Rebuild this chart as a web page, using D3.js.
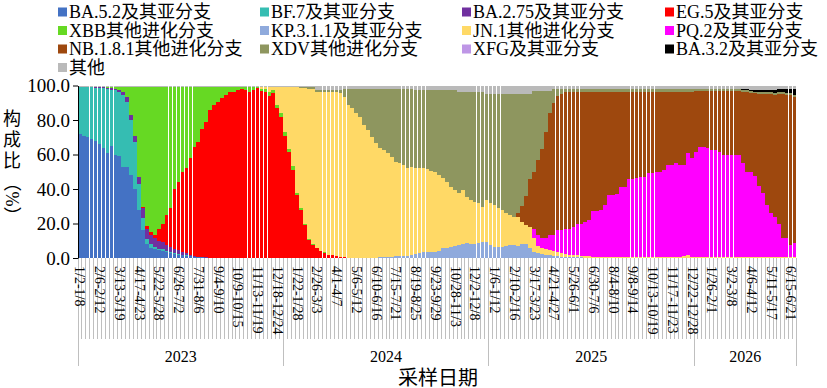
<!DOCTYPE html>
<html><head><meta charset="utf-8">
<script src="https://cdn.jsdelivr.net/npm/d3@7"></script>
<style>
body{margin:0;background:#fff;}
text{font-family:"Liberation Serif","Times New Roman","Noto Sans CJK SC",serif;fill:#000;}
</style>
</head><body>
<svg id="chart" width="827" height="388"></svg>
<script>
// ---------- DATA ----------
const weeks = [
"1/2-1/8","1/9-1/15","1/16-1/22","1/23-1/29","1/30-2/5","2/6-2/12","2/13-2/19","2/20-2/26","2/27-3/5","3/6-3/12",
"3/13-3/19","3/20-3/26","3/27-4/2","4/3-4/9","4/10-4/16","4/17-4/23","4/24-4/30","5/1-5/7","5/8-5/14","5/15-5/21",
"5/22-5/28","5/29-6/4","6/5-6/11","6/12-6/18","6/19-6/25","6/26-7/2","7/3-7/9","7/10-7/16","7/17-7/23","7/24-7/30",
"7/31-8/6","8/7-8/13","8/14-8/20","8/21-8/27","8/28-9/3","9/4-9/10","9/11-9/17","9/18-9/24","9/25-10/1","10/2-10/8",
"10/9-10/15","10/16-10/22","10/23-10/29","10/30-11/5","11/6-11/12","11/13-11/19","11/20-11/26","11/27-12/3","12/4-12/10","12/11-12/17",
"12/18-12/24","12/25-12/31",
"1/1-1/7","1/8-1/14","1/15-1/21","1/22-1/28","1/29-2/4","2/5-2/11","2/12-2/18","2/19-2/25","2/26-3/3","3/4-3/10",
"3/11-3/17","3/18-3/24","3/25-3/31","4/1-4/7","4/8-4/14","4/15-4/21","4/22-4/28","4/29-5/5","5/6-5/12","5/13-5/19",
"5/20-5/26","5/27-6/2","6/3-6/9","6/10-6/16","6/17-6/23","6/24-6/30","7/1-7/7","7/8-7/14","7/15-7/21","7/22-7/28",
"7/29-8/4","8/5-8/11","8/12-8/18","8/19-8/25","8/26-9/1","9/2-9/8","9/9-9/15","9/16-9/22","9/23-9/29","9/30-10/6",
"10/7-10/13","10/14-10/20","10/21-10/27","10/28-11/3","11/4-11/10","11/11-11/17","11/18-11/24","11/25-12/1","12/2-12/8","12/9-12/15",
"12/16-12/22","12/23-12/29",
"12/30-1/5","1/6-1/12","1/13-1/19","1/20-1/26","1/27-2/2","2/3-2/9","2/10-2/16","2/17-2/23","2/24-3/2","3/3-3/9",
"3/10-3/16","3/17-3/23","3/24-3/30","3/31-4/6","4/7-4/13","4/14-4/20","4/21-4/27","4/28-5/4","5/5-5/11","5/12-5/18",
"5/19-5/25","5/26-6/1","6/2-6/8","6/9-6/15","6/16-6/22","6/23-6/29","6/30-7/6","7/7-7/13","7/14-7/20","7/21-7/27",
"7/28-8/3","8/4-8/10","8/11-8/17","8/18-8/24","8/25-8/31","9/1-9/7","9/8-9/14","9/15-9/21","9/22-9/28","9/29-10/5",
"10/6-10/12","10/13-10/19","10/20-10/26","10/27-11/2","11/3-11/9","11/10-11/16","11/17-11/23","11/24-11/30","12/1-12/7","12/8-12/14",
"12/15-12/21","12/22-12/28",
"12/29-1/4","1/5-1/11","1/12-1/18","1/19-1/25","1/26-2/1","2/2-2/8","2/9-2/15","2/16-2/22","2/23-3/1","3/2-3/8",
"3/9-3/15","3/16-3/22","3/23-3/29","3/30-4/5","4/6-4/12","4/13-4/19","4/20-4/26","4/27-5/3","5/4-5/10","5/11-5/17",
"5/18-5/24","5/25-5/31","6/1-6/7","6/8-6/14","6/15-6/21","6/22-6/28"
];
const years = ["2023","2024","2025","2026"];
const weeksPerYear = [52,52,52,26];
const yTickLabels = ["0.0","20.0","40.0","60.0","80.0","100.0"];

const seriesNames = ["BA.5.2及其亚分支","BF.7及其亚分支","BA.2.75及其亚分支","EG.5及其亚分支",
  "XBB其他进化分支","KP.3.1.1及其亚分支","JN.1其他进化分支","PQ.2及其亚分支",
  "NB.1.8.1其他进化分支","XDV其他进化分支","XFG及其亚分支","BA.3.2及其亚分支","其他"];
const seriesColors = ["#4472C4","#35BDB2","#7030A0","#FF0000","#66D923","#8FAADC","#FFD966","#FF00FF",
  "#9E480E","#8E965F","#BE96E6","#000000","#BABABA"];

const BA52 = [
72,71,70,69,68,66,64,61,65,60, 59,53,53,48,40,28,16,8,6,5, 4.5,4,3.2,2.8,2.4,2,1.6,1.2,0.9,0.6, 0.4,0.3,0.2,0.1,0,0,0,0,0,0, 0,0,0,0,0,0,0,0,0,0, 0,0,
0,0,0,0,0,0,0,0,0,0, 0,0,0,0,0,0,0,0,0,0, 0,0,0,0,0,0,0,0,0,0, 0,0,0,0,0,0,0,0,0,0, 0,0,0,0,0,0,0,0,0,0, 0,0,
0,0,0,0,0,0,0,0,0,0, 0,0,0,0,0,0,0,0,0,0, 0,0,0,0,0,0,0,0,0,0, 0,0,0,0,0,0,0,0,0,0, 0,0,0,0,0,0,0,0,0,0, 0,0,
0,0,0,0,0,0,0,0,0,0, 0,0,0,0,0,0,0,0,0,0, 0,0,0,0,0,0];
const BF7 = [
26.9,27.9,28.9,29.9,30.8,32.7,34.4,37,32.6,37.2, 37,41.7,37.7,32,27,15,7,3,2,1.5, 1,1,0.8,0.7,0.6,0.5,0.4,0.3,0.2,0.2, 0.1,0,0,0,0,0,0,0,0,0, 0,0,0,0,0,0,0,0,0,0, 0,0,
0,0,0,0,0,0,0,0,0,0, 0,0,0,0,0,0,0,0,0,0, 0,0,0,0,0,0,0,0,0,0, 0,0,0,0,0,0,0,0,0,0, 0,0,0,0,0,0,0,0,0,0, 0,0,
0,0,0,0,0,0,0,0,0,0, 0,0,0,0,0,0,0,0,0,0, 0,0,0,0,0,0,0,0,0,0, 0,0,0,0,0,0,0,0,0,0, 0,0,0,0,0,0,0,0,0,0, 0,0,
0,0,0,0,0,0,0,0,0,0, 0,0,0,0,0,0,0,0,0,0, 0,0,0,0,0,0];
const BA275 = [
0.3,0.3,0.3,0.3,0.4,0.5,0.6,0.8,1,1, 1.2,1.5,2.5,3,3.5,4,6,6,5.5,5, 4.5,4,3.5,3,2.5,2,1.5,1.2,0.8,0.5, 0.3,0.2,0.1,0,0,0,0,0,0,0, 0,0,0,0,0,0,0,0,0,0, 0,0,
0,0,0,0,0,0,0,0,0,0, 0,0,0,0,0,0,0,0,0,0, 0,0,0,0,0,0,0,0,0,0, 0,0,0,0,0,0,0,0,0,0, 0,0,0,0,0,0,0,0,0,0, 0,0,
0,0,0,0,0,0,0,0,0,0, 0,0,0,0,0,0,0,0,0,0, 0,0,0,0,0,0,0,0,0,0, 0,0,0,0,0,0,0,0,0,0, 0,0,0,0,0,0,0,0,0,0, 0,0,
0,0,0,0,0,0,0,0,0,0, 0,0,0,0,0,0,0,0,0,0, 0,0,0,0,0,0];
const EG5 = [
0,0,0,0,0,0,0,0,0,0, 0,0,0,0,0,0,0.5,1.5,1.5,2, 7,11,17.5,22.5,34.5,39.5,46.5,49.3,56.1,63.2, 66.6,74.5,78.7,85.9,88.7,90.6,92.6,94.5,96.4,96.4, 97.4,98,97.4,96.4,97.4,98.4,96.8,96,94,95.5, 86.8,82,
71,61.6,51,36.5,27.8,19,10.4,7.5,5.6,4, 3,2,1.5,1,0.5,0.3,0,0,0,0, 0,0,0,0,0,0,0,0,0,0, 0,0,0,0,0,0,0,0,0,0, 0,0,0,0,0,0,0,0,0,0, 0,0,
0,0,0,0,0,0,0,0,0,0, 0,0,0,0,0,0,0,0,0,0, 0,0,0,0,0,0,0,0,0,0, 0,0,0,0,0,0,0,0,0,0, 0,0,0,0,0,0,0,0,0,0, 0,0,
0,0,0,0,0,0,0,0,0,0, 0,0,0,0,0,0,0,0,0,0, 0,0,0,0,0,0];
const XBB = [
0,0,0,0,0,0,0.2,0.4,0.6,1, 2,3,6,16.2,28.7,52.2,69.7,80.7,84.2,85.7, 82.2,79.2,74.2,70.2,59.2,55.2,49.2,47.2,41.2,34.7, 31.8,24.2,20.2,13.2,10.5,8.6,6.6,4.7,2.8,2.8, 1.8,1.2,1.8,2.8,1.6,0.5,1.4,1.7,2.2,1.7, 2,2,
2.3,1.5,2.5,1.2,1,0.8,0.8,0.5,0.3,0.2, 0.2,0,0,0,0,0,0,0,0,0, 0,0,0,0,0,0,0,0,0,0, 0,0,0,0,0,0,0,0,0,0, 0,0,0,0,0,0,0,0,0,0, 0,0,
0,0,0,0,0,0,0,0,0,0, 0,0,0,0,0,0,0,0,0,0, 0,0,0,0,0,0,0,0,0,0, 0,0,0,0,0,0,0,0,0,0, 0,0,0,0,0,0,0,0,0,0, 0,0,
0,0,0,0,0,0,0,0,0,0, 0,0,0,0,0,0,0,0,0,0, 0,0,0,0,0,0];
const KP311 = [
0,0,0,0,0,0,0,0,0,0, 0,0,0,0,0,0,0,0,0,0, 0,0,0,0,0,0,0,0,0,0, 0,0,0,0,0,0,0,0,0,0, 0,0,0,0,0,0,0,0,0,0, 0,0,
0,0,0,0,0,0,0,0,0,0, 0,0,0,0,0,0,0,0,0,0, 0,0,0,0.2,0.3,0.4,0.5,0.8,1,1.2, 1.3,1.4,1.5,2.5,3,3.3,3.3,3.3,3.5,4, 5.6,6,6.6,7,7.5,8,8.5,8,7.9,8.5, 9,9.5,
7.5,6.6,6.6,6.6,7,7.5,7.5,7,8,8, 5.6,3.7,2.7,2.2,1.7,1.5,1.2,1,0.8,0.6, 0.5,0.4,0.3,0.3,0.2,0.2,0.1,0,0,0, 0,0,0,0,0,0,0,0,0,0, 0,0,0,0,0,0,0,0,0,0, 0,0,
0,0,0,0,0,0,0,0,0,0, 0,0,0,0,0,0,0,0,0,0, 0,0,0,0,0,0];
const JN1 = [
0,0,0,0,0,0,0,0,0,0, 0,0,0,0,0,0,0,0,0,0, 0,0,0,0,0,0,0,0,0,0, 0,0,0,0,0,0,0,0,0,0, 0,0,0,0,0.2,0.3,1,1.5,3,2, 10.4,15.2,
25.7,35.9,45.5,61.3,70,78.7,86.8,90,90.6,92.1, 93,94,94.5,95,95,93.2,88.7,86.8,83.9,82, 77,74.2,70.3,66.3,63.3,62.2,60.2,57.9,54.8,54.1, 52.7,50.6,51.5,49.9,49,48.7,48.3,47.1,46.5,44, 40.6,38.3,34.8,32.4,30,31.4,27.1,25.6,24.8,23.2, 20.8,24.1,
24.2,24.1,22.2,21.2,18.9,17.4,16.5,16.5,13,11, 12.4,7.8,4.3,3.4,3.3,3,2.8,2.5,2.2,1.9, 1.5,1.4,1.3,1.1,1,0.8,0.7,0.6,0.6,0.5, 0.5,0.5,0.5,0.4,0.4,0.4,0.4,0.4,0.3,0.3, 0.3,0.3,0.5,0.3,0.3,0.3,0.3,0.3,0.5,1, 2,0.5,
0.3,0.3,0.3,0.3,0.3,0.3,0.3,0.3,0.3,0.3, 0.3,0.3,0.3,0.3,0.3,0.3,0.3,0.3,0.3,0.3, 0.3,0.3,0.3,0.3,0.3,0.3];
const PQ2 = [
0,0,0,0,0,0,0,0,0,0, 0,0,0,0,0,0,0,0,0,0, 0,0,0,0,0,0,0,0,0,0, 0,0,0,0,0,0,0,0,0,0, 0,0,0,0,0,0,0,0,0,0, 0,0,
0,0,0,0,0,0,0,0,0,0, 0,0,0,0,0,0,0,0,0,0, 0,0,0,0,0,0,0,0,0,0, 0,0,0,0,0,0,0,0,0,0, 0,0,0,0,0,0,0,0,0,0, 0,0,
0,0,0,0,0,0,0,0,0,0, 0,5.5,6.5,5.8,6.4,8.8,9.3,12.5,13.5,14.5, 15,16.2,18.4,18.6,19.8,21,26.2,26.4,27.4,30.2, 36,36,36.5,40.6,40.6,45.6,45.6,46.1,46.7,46.7, 48.7,48.7,49.5,49.7,50.7,53.7,53.7,54.7,53.5,53, 58.7,57.3,
61.3,64.2,64.2,63.3,62.3,62.3,61.3,59.4,59.4,59.4, 59.4,59.4,54.7,49.7,49.7,47.7,41.7,37.7,30.4,25.7, 23.7,19.7,11.1,11.1,7.2,8.2];
const NB181 = [
0,0,0,0,0,0,0,0,0,0, 0,0,0,0,0,0,0,0,0,0, 0,0,0,0,0,0,0,0,0,0, 0,0,0,0,0,0,0,0,0,0, 0,0,0,0,0,0,0,0,0,0, 0,0,
0,0,0,0,0,0,0,0,0,0, 0,0,0,0,0,0,0,0,0,0, 0,0,0,0,0,0,0,0,0,0, 0,0,0,0,0,0,0,0,0,0, 0,0,0,0,0,0,0,0,0,0, 0,0,
0,0,0,0,0,0,0,2.5,9,17, 28,33,43.5,51.6,61.6,70.7,76.7,78,78.5,79, 79,78,76,76,75,74,69,69,68,65.3, 59.5,59.5,59,55,55,50,50,49.5,49,49, 47,47,46,46,45,42,42,41,42,42, 35.3,38.2,
35.4,32.5,32.5,33.4,34.4,34.4,35.4,37.3,37.3,37.3, 37.3,37,41.5,46.5,46.2,48,53.5,57.5,65.1,69.5, 71,75,83.6,83.1,87,85];
const XDV = [
0,0,0,0,0,0,0,0,0,0, 0,0,0,0,0,0,0,0,0,0, 0,0,0,0,0,0,0,0,0,0, 0,0,0,0,0,0,0,0,0,0, 0,0,0,0,0,0,0,0,0,0, 0,0,
0,0,0,0,0.2,0.5,1,1,1,1.2, 1.3,1.5,1.5,1.5,2,4.5,9.3,11.2,14.1,16, 21,23.8,27.7,31.5,34.4,35.4,37.3,39.3,42.2,42.7, 44,46,45,45.1,45.5,45.5,45.9,47.1,47.5,49.5, 51.3,53.2,56.1,58.1,58.5,56.6,60.4,62.4,63.3,64.3, 66.2,61.4,
63.3,64.3,66.2,67.2,69.1,70.1,71,69,65,59, 49,47,40,34,24,13,8,4,3,2, 2,2,2,2,2,2,2,2,2,2, 2,2,2,2,2,2,2,2,2,2, 2,2,2,2,2,2,2,2,2,2, 2,2,
1,1,1,1,1,1,1,1,1,1, 1,1,1,1,1,1,1,1,1,1, 1,1,1,1,1,1];
const XFG = [
0,0,0,0,0,0,0,0,0,0, 0,0,0,0,0,0,0,0,0,0, 0,0,0,0,0,0,0,0,0,0, 0,0,0,0,0,0,0,0,0,0, 0,0,0,0,0,0,0,0,0,0, 0,0,
0,0,0,0,0,0,0,0,0,0, 0,0,0,0,0,0,0,0,0,0, 0,0,0,0,0,0,0,0,0,0, 0,0,0,0,0,0,0,0,0,0, 0,0,0,0,0,0,0,0,0,0, 0,0,
0,0,0,0,0,0,0,0,0,0, 0,0,0,0,0,0,0,0,0,0, 0,0,0,0,0,0,0,0,0,0, 0,0,0,0,0,0,0,0,0,0, 0,0,0,0,0,0,0,0,0,0, 0,0,
0,0,0,0,0,0,0,0,0,0, 0,0,0,0,0,0,0,0,0,0, 0,0,0,0,0,0];
const BA32 = [
0,0,0,0,0,0,0,0,0,0, 0,0,0,0,0,0,0,0,0,0, 0,0,0,0,0,0,0,0,0,0, 0,0,0,0,0,0,0,0,0,0, 0,0,0,0,0,0,0,0,0,0, 0,0,
0,0,0,0,0,0,0,0,0,0, 0,0,0,0,0,0,0,0,0,0, 0,0,0,0,0,0,0,0,0,0, 0,0,0,0,0,0,0,0,0,0, 0,0,0,0,0,0,0,0,0,0, 0,0,
0,0,0,0,0,0,0,0,0,0, 0,0,0,0,0,0,0,0,0,0, 0,0,0,0,0,0,0,0,0,0, 0,0,0,0,0,0,0,0,0,0, 0,0,0,0,0,0,0,0,0,0, 0,0,
0,0,0,0,0,0,0,0,0,0, 0,0.3,0.5,0.5,0.8,1,1.5,1.5,1.2,1.5, 2,2,2,2.5,2.5,3.5];
const OTHER = [
0.8,0.8,0.8,0.8,0.8,0.8,0.8,0.8,0.8,0.8, 0.8,0.8,0.8,0.8,0.8,0.8,0.8,0.8,0.8,0.8, 0.8,0.8,0.8,0.8,0.8,0.8,0.8,0.8,0.8,0.8, 0.8,0.8,0.8,0.8,0.8,0.8,0.8,0.8,0.8,0.8, 0.8,0.8,0.8,0.8,0.8,0.8,0.8,0.8,0.8,0.8, 0.8,0.8,
1,1,1,1,1,1,1,1,2.5,2.5, 2.5,2.5,2.5,2.5,2.5,2,2,2,2,2, 2,2,2,2,2,2,2,2,2,2, 2,2,2,2.5,2.5,2.5,2.5,2.5,2.5,2.5, 2.5,2.5,2.5,2.5,4,4,4,4,4,4, 4,5,
5,5,5,5,5,5,5,5,5,5, 5,3,3,3,3,3,2,2,2,2, 2,2,2,2,2,2,2,2,2,2, 2,2,2,2,2,2,2,2,2,2, 2,2,2,2,2,2,2,2,2,2, 2,2,
2,2,2,2,2,2,2,2,2,2, 2,2,2,2,2.5,2.5,2.5,2.5,2.5,2.5, 2.5,2,2,2,2,2];

const seriesValues = [BA52,BF7,BA275,EG5,XBB,KP311,JN1,PQ2,NB181,XDV,XFG,BA32,OTHER];

// ---------- CHART ----------
const svg = d3.select("#chart");
const plot = {left:78, right:796.7, top:85.5, bottom:258};

const rows = weeks.map((w,i)=>{
  const r = {week:w};
  seriesNames.forEach((k,j)=>{ r[k] = seriesValues[j][i]; });
  return r;
});
const stacked = d3.stack().keys(seriesNames).offset(d3.stackOffsetExpand)(rows);

const x = d3.scaleBand().domain(weeks).range([plot.left, plot.right]).paddingInner(0).paddingOuter(0);
const y = d3.scaleLinear().domain([0,1]).range([plot.bottom, plot.top]);
const color = d3.scaleOrdinal().domain(seriesNames).range(seriesColors);
const bw = x.bandwidth();

// bars
svg.append("g").attr("shape-rendering","crispEdges")
  .selectAll("g").data(stacked).join("g")
  .attr("fill", d=>color(d.key))
  .selectAll("rect").data(d=>d).join("rect")
  .attr("x", d=>x(d.data.week))
  .attr("width", bw-0.35)
  .attr("y", d=>y(d[1]))
  .attr("height", d=>Math.max(0, y(d[0])-y(d[1])));

// category dividers (multi-level axis)
const boundaries = weeks.map(w=>x(w)).concat([plot.right]);
svg.append("g").attr("shape-rendering","crispEdges")
  .selectAll("line").data(boundaries).join("line")
  .attr("x1",d=>d).attr("x2",d=>d)
  .attr("y1",plot.bottom).attr("y2",339)
  .attr("stroke","#BFBFBF").attr("stroke-width",1);

// year group dividers
let acc = 0;
const yearEdges = [x(weeks[0])];
const yearCenters = [];
weeksPerYear.forEach((n)=>{
  const start = x(weeks[acc]);
  const end = (acc+n < weeks.length) ? x(weeks[acc+n]) : plot.right;
  yearCenters.push((start+end)/2);
  yearEdges.push(end);
  acc += n;
});
svg.append("g").attr("shape-rendering","crispEdges")
  .selectAll("line").data(yearEdges).join("line")
  .attr("x1",d=>d).attr("x2",d=>d)
  .attr("y1",plot.bottom).attr("y2",366)
  .attr("stroke","#BFBFBF").attr("stroke-width",1);

// category labels (every 5th week)
svg.append("g").selectAll("text")
  .data(weeks.filter((w,i)=>i%5===0)).join("text")
  .attr("transform", d=>`translate(${x(d)+bw/2},266) rotate(90)`)
  .attr("dominant-baseline","central")
  .attr("font-size",14)
  .text(d=>d);

// year labels
svg.append("g").selectAll("text").data(years).join("text")
  .attr("x",(d,i)=>yearCenters[i]).attr("y",356)
  .attr("text-anchor","middle").attr("dominant-baseline","central")
  .attr("font-size",16).text(d=>d);

// x title
svg.append("text").attr("x",438).attr("y",378).attr("text-anchor","middle")
  .attr("dominant-baseline","central").attr("font-size",20).text("采样日期");

// y axis
const yAxis = d3.axisLeft(y).tickValues([0,0.2,0.4,0.6,0.8,1])
  .tickFormat((d,i)=>yTickLabels[i]).tickSize(5).tickSizeOuter(0);
const ga = svg.append("g").attr("transform",`translate(${plot.left},0)`).call(yAxis);
ga.select(".domain").attr("stroke","#000");
ga.selectAll(".tick line").attr("stroke","#000");
ga.selectAll(".tick text").attr("font-size",19).attr("font-family",'"Liberation Serif",serif').attr("fill","#000").attr("x",-8);

// y title
const yt = svg.append("g");
[["构",119],["成",140],["比",161]].forEach(([c,yy])=>{
  yt.append("text").attr("x",12).attr("y",yy).attr("text-anchor","middle")
    .attr("dominant-baseline","central").attr("font-size",18).text(c);
});
yt.append("text").attr("transform","translate(12,199) rotate(90)")
  .attr("text-anchor","middle").attr("dominant-baseline","central")
  .attr("font-size",18).text("（%）");

// legend
const legCols = [58,260,462,665], legRows = [12,30.5,49,67.5];
const leg = svg.append("g");
seriesNames.forEach((name,i)=>{
  const cx = legCols[i%4], cy = legRows[Math.floor(i/4)];
  leg.append("rect").attr("x",cx).attr("y",cy-4.5).attr("width",9).attr("height",9).attr("fill",color(name));
  leg.append("text").attr("x",cx+11).attr("y",cy).attr("dominant-baseline","central")
    .attr("font-size",18).text(name);
});
</script>
</body></html>
